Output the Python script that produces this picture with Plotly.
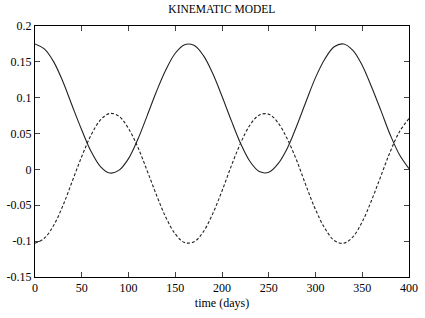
import plotly.graph_objects as go

days = list(range(0, 401, 10))
solid_vals = [0.175, 0.168, 0.150, 0.122, 0.088, 0.055, 0.025, 0.004, -0.005, -0.001,
              0.015, 0.042, 0.075, 0.109, 0.139, 0.162, 0.174, 0.173, 0.159, 0.134,
              0.102, 0.068, 0.036, 0.011, -0.003, -0.004, 0.008, 0.030, 0.061, 0.095,
              0.128, 0.154, 0.171, 0.175, 0.166, 0.145, 0.115, 0.082, 0.048, 0.020, 0.001]
dashed_vals = [-0.103, -0.096, -0.078, -0.050, -0.016, 0.018, 0.048, 0.069, 0.078, 0.074,
               0.057, 0.031, -0.002, -0.036, -0.067, -0.090, -0.102, -0.101, -0.087, -0.062,
               -0.030, 0.005, 0.037, 0.062, 0.076, 0.077, 0.065, 0.042, 0.012, -0.023,
               -0.056, -0.082, -0.099, -0.103, -0.094, -0.073, -0.043, -0.009, 0.025, 0.053, 0.071]
x_ticks = [0, 50, 100, 150, 200, 250, 300, 350, 400]
y_ticks = [-0.15, -0.1, -0.05, 0, 0.05, 0.1, 0.15, 0.2]
y_tick_text = ["-0.15", "-0.1", "-0.05", "0", "0.05", "0.1", "0.15", "0.2"]

font = "Liberation Serif, Times New Roman, serif"

fig = go.Figure()
fig.add_trace(go.Scatter(x=days, y=solid_vals, mode="lines",
                         line=dict(color="#222", width=1.1, shape="spline")))
fig.add_trace(go.Scatter(x=days, y=dashed_vals, mode="lines",
                         line=dict(color="#222", width=1.1, shape="spline", dash="3px,2px")))

fig.update_layout(
    width=425, height=318,
    margin=dict(l=35, r=16, t=26, b=41, autoexpand=False),
    paper_bgcolor="white", plot_bgcolor="white",
    showlegend=False,
    font=dict(family=font, size=12, color="black"),
    title=dict(text="KINEMATIC MODEL", x=0.522, xanchor="center", y=0.985, yanchor="top",
               font=dict(family=font, size=11.5, color="black")),
    xaxis=dict(range=[0, 400], tickvals=x_ticks, ticks="inside", ticklen=5, mirror="allticks",
               showline=True, linecolor="black", linewidth=1, showgrid=False, zeroline=False,
               automargin=False,
               title=dict(text="time (days)", standoff=4, font=dict(family=font, size=12)),
               tickfont=dict(family=font, size=12)),
    yaxis=dict(range=[-0.15, 0.2], tickvals=y_ticks, ticktext=y_tick_text, ticks="inside",
               ticklen=5, mirror="allticks", showline=True, linecolor="black", linewidth=1,
               showgrid=False, zeroline=False, automargin=False,
               tickfont=dict(family=font, size=12)),
)

fig.write_html("out.html", config={"displayModeBar": False, "staticPlot": True})
with open("out.html", "r", encoding="utf-8") as f:
    html = f.read()
html = html.replace("<head>", "<head><style>html,body{margin:0;padding:0;overflow:hidden;}</style>", 1)
with open("out.html", "w", encoding="utf-8") as f:
    f.write(html)
